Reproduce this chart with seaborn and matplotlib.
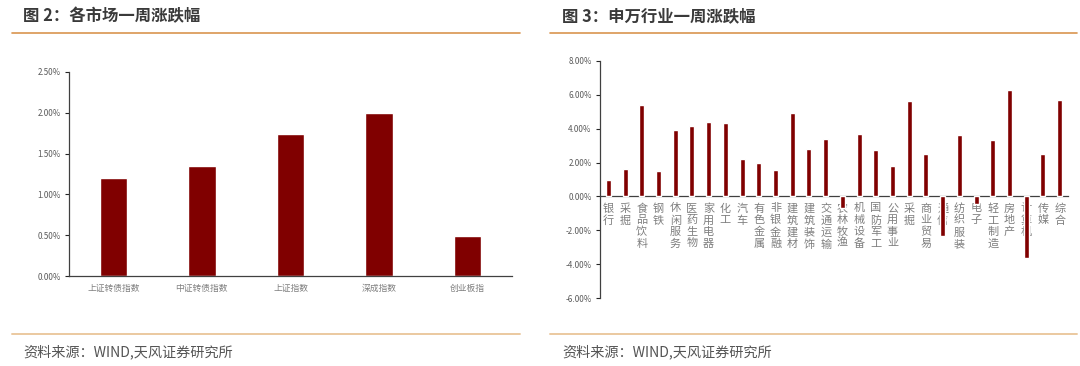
"""
Weekly market / Shenwan industry returns, two bar panels side by side.
"""
import numpy as np
import pandas as pd
import seaborn as sns
import matplotlib.pyplot as plt
from matplotlib.lines import Line2D
from matplotlib.ticker import FuncFormatter

# 图 2: 各市场一周涨跌幅 (%)
market_names = ['上证转债指数', '中证转债指数', '上证指数', '深成指数', '创业板指']
market_returns = [1.20, 1.35, 1.74, 2.00, 0.49]

# 图 3: 申万行业一周涨跌幅 (%)
industry_names = ['银行', '采掘', '食品饮料', '钢铁', '休闲服务', '医药生物', '家用电器',
                  '化工', '汽车', '有色金属', '非银金融', '建筑建材', '建筑装饰', '交通运输',
                  '农林牧渔', '机械设备', '国防军工', '公用事业', '采掘', '商业贸易', '通信',
                  '纺织服装', '电子', '轻工制造', '房地产', '计算机', '传媒', '综合']
industry_returns = [0.98, 1.63, 5.39, 1.51, 3.90, 4.18, 4.37, 4.35, 2.20, 1.96, 1.57, 4.94,
                    2.82, 3.39, -0.68, 3.67, 2.77, 1.79, 5.63, 2.53, -2.35, 3.61, -0.47,
                    3.34, 6.30, -3.62, 2.53, 5.67]

W, H = 1080, 366
BAR = '#800000'
TXT = '#7f7f7f'

sns.set_theme(style='white')
plt.rcParams['font.family'] = ['Noto Sans CJK SC', 'DejaVu Sans']

fig = plt.figure(figsize=(W / 100, H / 100), dpi=100)


def px_box(left, top, right, bottom):
    return [left / W, 1 - bottom / H, (right - left) / W, (bottom - top) / H]


pct = FuncFormatter(lambda v, _: f'{v:.2f}%')

# ---- left panel
ax1 = fig.add_axes(px_box(69, 72, 512, 276))
df1 = pd.DataFrame({'name': market_names, 'ret': market_returns})
sns.barplot(data=df1, x='name', y='ret', color=BAR, saturation=1, width=0.31, ax=ax1)
ax1.set_ylim(0, 2.5)
ax1.set_yticks(np.arange(0, 2.51, 0.5))
ax1.yaxis.set_major_formatter(pct)
ax1.set_xlim(-0.5, 4.5)
ax1.set_xlabel('')
ax1.set_ylabel('')
ax1.tick_params(axis='y', labelsize=5.8, length=3, width=0.8, direction='out', left=True, pad=3)
ax1.tick_params(axis='x', labelsize=6.3, labelcolor=TXT, length=0, pad=6)
for lbl in ax1.get_yticklabels():
    lbl.set_color('#595959')

# ---- right panel
ax2 = fig.add_axes(px_box(600, 61, 1068, 298))
df2 = pd.DataFrame({'pos': range(len(industry_names)), 'ret': industry_returns})
sns.barplot(data=df2, x='pos', y='ret', color=BAR, saturation=1, width=0.3, ax=ax2, zorder=3)
ax2.set_ylim(-6, 8)
ax2.set_yticks(np.arange(-6, 8.01, 2))
ax2.yaxis.set_major_formatter(pct)
ax2.set_xlim(-0.5, len(industry_names) - 0.5)
ax2.set_xticks(range(len(industry_names)))
ax2.set_xticklabels(['\n'.join(n) for n in industry_names], va='top', linespacing=1.0)
ax2.spines['bottom'].set_position(('data', 0))
ax2.set_xlabel('')
ax2.set_ylabel('')
ax2.tick_params(axis='y', labelsize=5.8, length=3, width=0.8, direction='out', left=True, pad=3)
ax2.tick_params(axis='x', labelsize=8, labelcolor=TXT, length=0, pad=5)
for lbl in ax2.get_yticklabels():
    lbl.set_color('#595959')

for ax in (ax1, ax2):
    sns.despine(ax=ax, top=True, right=True)
    ax.spines['left'].set_color('#404040')
    ax.spines['bottom'].set_color('#404040')
    ax.spines['left'].set_linewidth(0.9)
    ax.spines['bottom'].set_linewidth(0.9)

# ---- titles, rules and source notes
TOP_RULE = '#D9954F'
BOT_RULE = '#EBC9A0'
for x0, x1 in [(12, 520), (550, 1077)]:
    fig.add_artist(Line2D([x0 / W, x1 / W], [1 - 32.5 / H] * 2, color=TOP_RULE, lw=1.2))
    fig.add_artist(Line2D([x0 / W, x1 / W], [1 - 334 / H] * 2, color=BOT_RULE, lw=1.4))

fig.text(23 / W, 1 - 16 / H, '图 2：各市场一周涨跌幅', fontsize=11.8, fontweight='bold',
         color='#3a3a3a', va='center', ha='left')
fig.text(562 / W, 1 - 16 / H, '图 3：申万行业一周涨跌幅', fontsize=11.8, fontweight='bold',
         color='#3a3a3a', va='center', ha='left')
fig.text(23 / W, 1 - 352 / H, '资料来源：WIND,天风证券研究所', fontsize=10.2,
         color='#555555', va='center', ha='left')
fig.text(562 / W, 1 - 352 / H, '资料来源：WIND,天风证券研究所', fontsize=10.2,
         color='#555555', va='center', ha='left')

fig.savefig('out.png', dpi=100)
plt.close(fig)
